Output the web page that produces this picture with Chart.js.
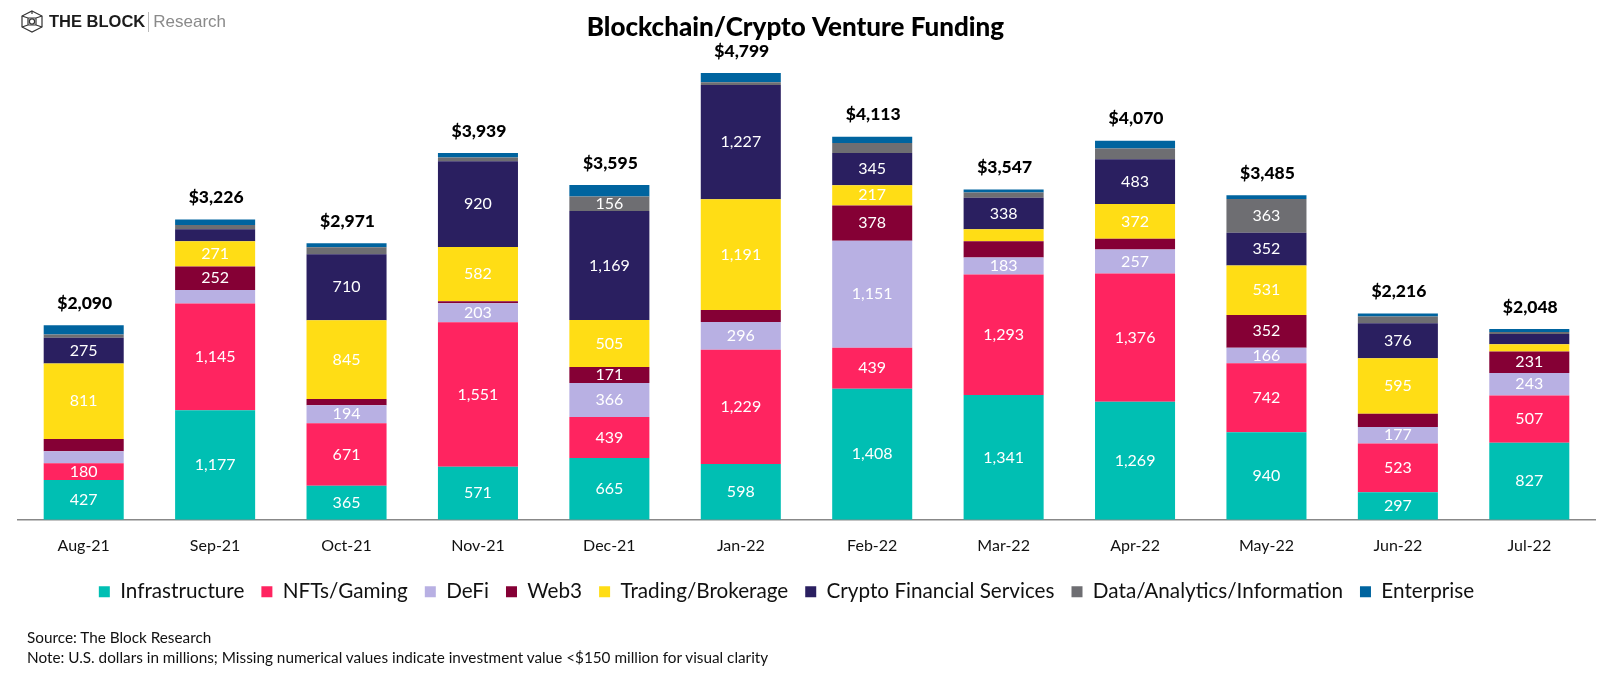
<!DOCTYPE html>
<html>
<head>
<meta charset="utf-8">
<title>Blockchain/Crypto Venture Funding</title>
<script src="https://cdn.jsdelivr.net/npm/chart.js@4"></script>
<style>
    html, body { margin: 0; background: #fff; }
    #wrap { position: relative; width: 1600px; height: 676px; overflow: hidden; }
    #fundingChart { position: absolute; left: 0; top: 0; }
    .brand { position: absolute; left: 21px; top: 10px; height: 23px; display: flex; align-items: center; font-family: "Liberation Sans", sans-serif; }
    .brand b { margin-left: 6px; font-size: 16.5px; color: #1b1b1b; }
    .brand i { width: 1px; height: 20px; margin: 0 4px 0 3px; background: #bbb; }
    .brand span { font-size: 17px; color: #8a8a8a; }
    .notes { position: absolute; left: 27px; top: 628px; font: 15.3px/19.5px Lato, sans-serif; color: #111; }
</style>
</head>
<body>
<div id="wrap">
    <canvas id="fundingChart" width="1600" height="676"></canvas>
    <div class="brand">
        <svg width="22" height="23" viewBox="0 0 22 23" fill="none" stroke="#333" stroke-width="1.2">
            <path d="M11 1 L21 6 V17 L11 22 L1 17 V6 Z"/>
            <path d="M1 6 L7 8 H15 L21 6 M7 8 V15 H15 V8 M1 17 L7 15 M21 17 L15 15 M11 1 V4"/>
            <circle cx="11" cy="11.5" r="2.6"/>
        </svg>
        <b>THE BLOCK</b><i></i><span>Research</span>
    </div>
    <div class="notes">
        Source: The Block Research<br>
        Note: U.S. dollars in millions; Missing numerical values indicate investment value &lt;$150 million for visual clarity
    </div>
</div>

<script>
const months = ['Aug-21', 'Sep-21', 'Oct-21', 'Nov-21', 'Dec-21', 'Jan-22', 'Feb-22', 'Mar-22', 'Apr-22', 'May-22', 'Jun-22', 'Jul-22'];

const infrastructure = [427, 1177, 365, 571, 665, 598, 1408, 1341, 1269, 940, 297, 827];
const nftsGaming     = [180, 1145, 671, 1551, 439, 1229, 439, 1293, 1376, 742, 523, 507];
const defi           = [128, 146, 194, 203, 366, 296, 1151, 183, 257, 166, 177, 243];
const web3           = [133, 252, 68, 23, 171, 129, 378, 175, 116, 352, 142, 231];
const trading        = [811, 271, 845, 582, 505, 1191, 217, 128, 372, 531, 595, 78];
const cryptoFinance  = [275, 130, 710, 920, 1169, 1227, 345, 338, 483, 352, 376, 110];
const dataAnalytics  = [36, 45, 75, 41, 156, 29, 109, 57, 115, 363, 73, 20];
const enterprise     = [100, 60, 43, 48, 124, 100, 66, 32, 82, 39, 33, 32];

const totals = [2090, 3226, 2971, 3939, 3595, 4799, 4113, 3547, 4070, 3485, 2216, 2048];

const LABEL_MIN = 150;
// this one segment stays unprinted even though it is above the cut-off
const unlabeled = [{ series: 'Web3', month: 'Mar-22' }];

const FONT = 'Lato, sans-serif';

function makeSeries(label, data, color) {
    return { label: label, data: data, backgroundColor: color, borderWidth: 0, stack: 'funding' };
}

// white value inside each segment, bold total above each column
const barLabels = {
    id: 'barLabels',
    afterDatasetsDraw(chart) {
        const ctx = chart.ctx;
        ctx.save();
        ctx.textAlign = 'center';
        ctx.textBaseline = 'middle';
        ctx.fillStyle = '#fff';
        ctx.font = '16px ' + FONT;
        chart.data.datasets.forEach((ds, i) => {
            chart.getDatasetMeta(i).data.forEach((bar, j) => {
                const val = ds.data[j];
                if (val < LABEL_MIN) return;
                if (unlabeled.some(u => u.series === ds.label && u.month === months[j])) return;
                ctx.fillText(val.toLocaleString('en-US'), bar.x, (bar.y + bar.base) / 2);
            });
        });
        const yScale = chart.scales.y;
        const xScale = chart.scales.x;
        ctx.fillStyle = '#000';
        ctx.font = '900 17.5px ' + FONT;
        totals.forEach((t, j) => {
            ctx.fillText('$' + t.toLocaleString('en-US'), xScale.getPixelForValue(j) + 1, yScale.getPixelForValue(t) - 22);
        });
        ctx.restore();
    }
};

// title and legend are not centred on the canvas
const boxNudge = {
    id: 'boxNudge',
    afterLayout(chart) {
        const title = chart.titleBlock;
        title.left -= 11; title.right -= 11;
        const legend = chart.legend;
        legend.left -= 20; legend.right -= 20;
    }
};

new Chart(document.getElementById('fundingChart').getContext('2d'), {
    type: 'bar',
    data: {
        labels: months,
        datasets: [
            makeSeries('Infrastructure', infrastructure, '#00BFB3'),
            makeSeries('NFTs/Gaming', nftsGaming, '#FF2460'),
            makeSeries('DeFi', defi, '#B8B0E3'),
            makeSeries('Web3', web3, '#850035'),
            makeSeries('Trading/Brokerage', trading, '#FFDD15'),
            makeSeries('Crypto Financial Services', cryptoFinance, '#2A1F60'),
            makeSeries('Data/Analytics/Information', dataAnalytics, '#6E6E72'),
            makeSeries('Enterprise', enterprise, '#00649F')
        ]
    },
    options: {
        responsive: false,
        animation: false,
        categoryPercentage: 0.609,
        barPercentage: 1,
        layout: { padding: { left: 18, right: 5, bottom: 64, top: 0 } },
        scales: {
            x: {
                stacked: true,
                grid: { display: false },
                border: { color: '#888', width: 1.5 },
                ticks: { color: '#111', font: { family: FONT, size: 16 }, padding: 8, maxRotation: 0 },
                afterFit: scale => { scale.height = 44.5; }
            },
            y: { stacked: true, display: false, min: 0, max: 5000 }
        },
        plugins: {
            title: {
                display: true,
                text: 'Blockchain/Crypto Venture Funding',
                color: '#000',
                font: { family: FONT, size: 26, weight: 900 },
                padding: { top: 12, bottom: 11 }
            },
            legend: {
                position: 'bottom',
                labels: {
                    color: '#111',
                    boxWidth: 11,
                    boxHeight: 11,
                    padding: 17,
                    font: { family: FONT, size: 20.7 }
                }
            },
            tooltip: { enabled: false }
        }
    },
    plugins: [barLabels, boxNudge]
});
</script>
</body>
</html>
